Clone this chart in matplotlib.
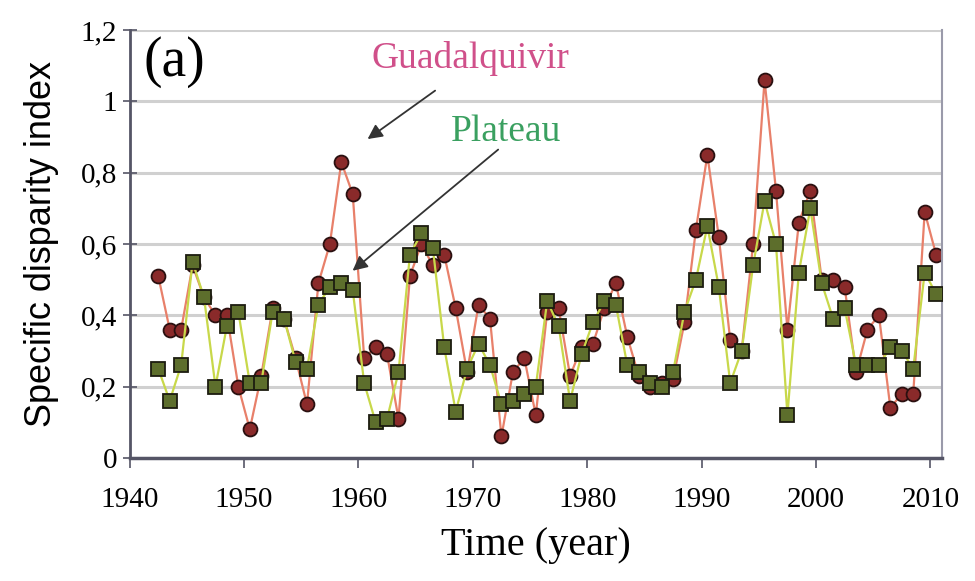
import matplotlib.pyplot as plt
from matplotlib.ticker import FuncFormatter

# years of the series (points are drawn mid-year)
years = list(range(1942, 2011))

guadalquivir = [0.51, 0.36, 0.36, 0.54, 0.45, 0.40, 0.40, 0.20, 0.08, 0.23,
                0.42, 0.39, 0.28, 0.15, 0.49, 0.60, 0.83, 0.74, 0.28, 0.31,
                0.29, 0.11, 0.51, 0.60, 0.54, 0.57, 0.42, 0.24, 0.43, 0.39,
                0.06, 0.24, 0.28, 0.12, 0.41, 0.42, 0.23, 0.31, 0.32, 0.42,
                0.49, 0.34, 0.23, 0.20, 0.21, 0.22, 0.38, 0.64, 0.85, 0.62,
                0.33, 0.30, 0.60, 1.06, 0.75, 0.36, 0.66, 0.75, 0.50, 0.50,
                0.48, 0.24, 0.36, 0.40, 0.14, 0.18, 0.18, 0.69, 0.57]

plateau = [0.25, 0.16, 0.26, 0.55, 0.45, 0.20, 0.37, 0.41, 0.21, 0.21,
           0.41, 0.39, 0.27, 0.25, 0.43, 0.48, 0.49, 0.47, 0.21, 0.10,
           0.11, 0.24, 0.57, 0.63, 0.59, 0.31, 0.13, 0.25, 0.32, 0.26,
           0.15, 0.16, 0.18, 0.20, 0.44, 0.37, 0.16, 0.29, 0.38, 0.44,
           0.43, 0.26, 0.24, 0.21, 0.20, 0.24, 0.41, 0.50, 0.65, 0.48,
           0.21, 0.30, 0.54, 0.72, 0.60, 0.12, 0.52, 0.70, 0.49, 0.39,
           0.42, 0.26, 0.26, 0.26, 0.31, 0.30, 0.25, 0.52, 0.46]

x = [y + 0.5 for y in years]

serif = ['Liberation Serif', 'DejaVu Serif']

fig = plt.figure(figsize=(9.75, 5.81), dpi=100)
ax = fig.add_axes([0.133, 0.212, 0.833, 0.736])

# gridlines
for v in [0.2, 0.4, 0.6, 0.8, 1.0, 1.2]:
    ax.axhline(v, color='#d0d0d0', lw=2.2, zorder=0)

ax.plot(x, plateau, color='#c8d84a', lw=1.6, marker='s', ms=9.5,
        mfc='#5d6e2c', mec='#1c1c10', mew=1.3, zorder=3)
ax.plot(x, guadalquivir, color='#e8806a', lw=1.6, marker='o', ms=10,
        mfc='#8a2a2a', mec='#2a1010', mew=1.3, zorder=2)

ax.set_xlim(1940, 2011)
ax.set_ylim(0, 1.2)
ax.set_xticks(range(1940, 2011, 10))
ax.set_yticks([0, 0.2, 0.4, 0.6, 0.8, 1.0, 1.2])
ax.yaxis.set_major_formatter(FuncFormatter(lambda v, p: ('%g' % round(v, 1)).replace('.', ',')))

ax.tick_params(axis='y', direction='inout', length=10, width=1.2, color='#555566', pad=4,
               labelsize=21, labelfontfamily='Liberation Serif')
ax.tick_params(axis='x', direction='out', length=7, width=1.2, color='#555566', pad=14,
               labelsize=21, labelfontfamily='Liberation Serif')

ax.spines['left'].set_color('#555566')
ax.spines['left'].set_linewidth(2)
ax.spines['bottom'].set_color('#555566')
ax.spines['bottom'].set_linewidth(2.5)
ax.spines['right'].set_color('#9a9aaa')
ax.spines['right'].set_linewidth(1.5)
ax.spines['top'].set_visible(False)

ax.set_xlabel('Time (year)', family=serif, fontsize=29, labelpad=10)
ax.set_ylabel('Specific disparity index', family=['Liberation Sans', 'DejaVu Sans'],
              fontsize=26, labelpad=16)

ax.text(1941.2, 1.11, '(a)', family=serif, fontsize=40, va='center', ha='left')
ax.text(1969.8, 1.12, 'Guadalquivir', family=serif, fontsize=27, color='#d0508a',
        ha='center', va='center')
ax.text(1972.9, 0.915, 'Plateau', family=serif, fontsize=27, color='#3aa060',
        ha='center', va='center')

ax.annotate('', xy=(1960.6, 0.89), xytext=(1966.9, 1.035),
            arrowprops=dict(arrowstyle='-|>', color='#333333', lw=1.3, mutation_scale=22))
ax.annotate('', xy=(1959.3, 0.52), xytext=(1972.4, 0.87),
            arrowprops=dict(arrowstyle='-|>', color='#333333', lw=1.3, mutation_scale=22))

plt.savefig('out.png', dpi=100)
